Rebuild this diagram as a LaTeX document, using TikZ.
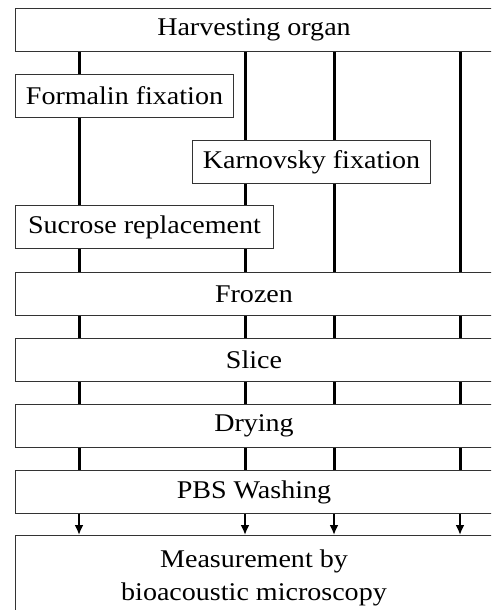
\documentclass[tikz,border=0pt]{standalone}
\usepackage{fontspec}
\setmainfont{Liberation Serif}[FakeStretch=1.1]
\usetikzlibrary{arrows.meta}
\tikzset{
  stage/.style={draw=black!80, line width=1pt, rectangle, inner sep=0pt,
    minimum height=43pt, anchor=north west,
    font=\fontsize{25.5}{33}\selectfont, align=center},
  flow/.style={line width=3pt},
  flowarr/.style={line width=2.6pt, -{Latex[length=10pt,width=9pt]}},
}
\begin{document}
\begin{tikzpicture}[x=1pt, y=-1pt]
  \useasboundingbox (0,0) rectangle (491,610);
  \clip (0,0) rectangle (491,610);

  % lanes of the flow
  \coordinate (c1) at (79,0);
  \coordinate (c2) at (245,0);
  \coordinate (c3) at (334,0);
  \coordinate (c4) at (460,0);

  % steps
  \node[stage, minimum width=477pt] (harv) at (15,8) {Harvesting organ};
  \node[stage, minimum width=218pt] (form) at (15,74) {Formalin fixation};
  \node[stage, minimum width=238pt] (karn) at (192,140) {Karnovsky fixation};
  \node[stage, minimum width=258pt] (sucr) at (15,205) {Sucrose replacement};
  \node[stage, minimum width=477pt] (froz) at (15,272) {Frozen};
  \node[stage, minimum width=477pt] (slic) at (15,338) {Slice};
  \node[stage, minimum width=477pt] (dryi) at (15,404) {Drying};
  \node[stage, minimum width=477pt] (pbsw) at (15,470) {PBS Washing};
  \node[stage, minimum width=477pt, minimum height=84pt] (meas) at (15,535)
    {Measurement by\\bioacoustic microscopy};

  % branches before freezing
  \foreach \a/\b/\c in {harv/form/c1, form/sucr/c1, sucr/froz/c1,
    harv/karn/c2, karn/sucr/c2, sucr/froz/c2,
    harv/karn/c3, karn/froz/c3,
    harv/froz/c4}
    \draw[flow] (\a.south -| \c) -- (\b.north -| \c);

  % common part
  \foreach \c in {c1,c2,c3,c4}
  {
    \draw[flow] (froz.south -| \c) -- (slic.north -| \c);
    \draw[flow] (slic.south -| \c) -- (dryi.north -| \c);
    \draw[flow] (dryi.south -| \c) -- (pbsw.north -| \c);
    \draw[flowarr] (pbsw.south -| \c) -- (meas.north -| \c);
  }
\end{tikzpicture}
\end{document}
